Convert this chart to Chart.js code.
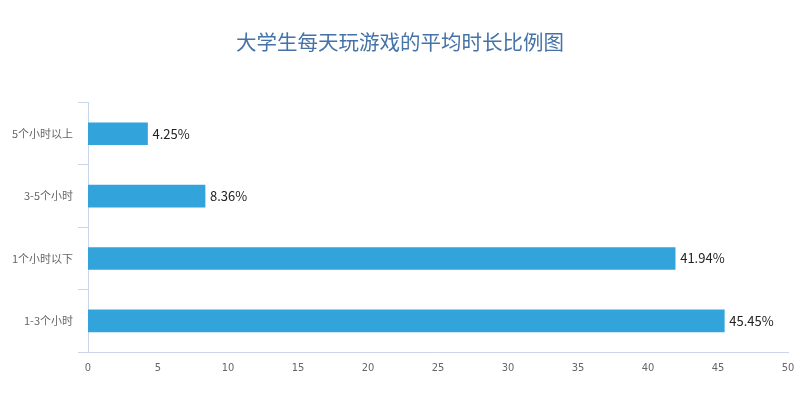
<!DOCTYPE html>
<html>
<head>
<meta charset="utf-8">
<script src="https://cdn.jsdelivr.net/npm/chart.js@4"></script>
<style>
  html, body { margin: 0; padding: 0; background: #fff; }
  #wrap { width: 800px; height: 394px; }
</style>
</head>
<body>
<div id="wrap"><canvas id="chart-area"></canvas></div>
<script>
// 大学生每天玩游戏的平均时长比例
var categories = ['5个小时以上', '3-5个小时', '1个小时以下', '1-3个小时'];
var values = [4.25, 8.36, 41.94, 45.45];
var xTicks = [0, 5, 10, 15, 20, 25, 30, 35, 40, 45, 50];

var axisColor = '#ccd6eb';
var cjkFont = '"Noto Sans CJK SC", "Microsoft YaHei", sans-serif';

// value labels at the end of each bar
var barLabels = {
	id: 'barLabels',
	afterDatasetsDraw: function (chart) {
		var ctx = chart.ctx;
		var meta = chart.getDatasetMeta(0);
		ctx.save();
		ctx.font = '13px ' + cjkFont;
		ctx.fillStyle = '#222';
		ctx.textAlign = 'left';
		ctx.textBaseline = 'middle';
		meta.data.forEach(function (bar, i) {
			ctx.fillText(values[i].toFixed(2) + '%', bar.x + 5, bar.y);
		});
		ctx.restore();
	}
};

var context = document.getElementById('chart-area').getContext('2d');
var config = {
	type: 'bar',
	data: {
		labels: categories,
		datasets: [{
			data: values,
			backgroundColor: '#33a3dc',
			barThickness: 22
		}]
	},
	options: {
		indexAxis: 'y',
		responsive: true,
		maintainAspectRatio: false,
		animation: false,
		layout: { padding: 0 },
		plugins: {
			legend: { display: false },
			tooltip: { enabled: false },
			title: {
				display: true,
				text: '大学生每天玩游戏的平均时长比例图',
				color: '#4572a7',
				font: { family: cjkFont, size: 20.5, weight: 'normal' },
				padding: { top: 30, bottom: 48 }
			}
		},
		scales: {
			x: {
				type: 'linear',
				min: 0,
				max: 50,
				afterBuildTicks: function (scale) {
					scale.ticks = xTicks.map(function (v) { return { value: v }; });
				},
				afterFit: function (scale) {
					scale.height = 42;
					scale.paddingLeft = 0;
					scale.paddingRight = 12;
				},
				grid: { display: false, drawTicks: false },
				border: { display: true, color: axisColor, width: 1 },
				ticks: {
					padding: 10,
					color: '#666',
					font: { family: '"Liberation Sans Narrow", "DejaVu Sans Condensed", sans-serif', size: 11 }
				}
			},
			y: {
				afterFit: function (scale) { scale.width = 88; },
				grid: {
					display: true,
					offset: true,
					drawOnChartArea: false,
					drawTicks: true,
					tickLength: 10,
					color: axisColor
				},
				border: { display: true, color: axisColor, width: 1 },
				ticks: {
					padding: 5,
					color: '#666',
					font: { family: cjkFont, size: 11 }
				}
			}
		}
	},
	plugins: [barLabels]
};

window.myBar = new Chart(context, config);
</script>
</body>
</html>
